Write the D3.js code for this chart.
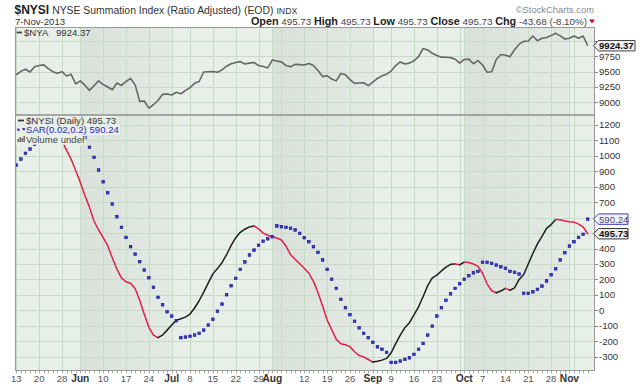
<!DOCTYPE html>
<html><head><meta charset="utf-8">
<script src="https://cdn.jsdelivr.net/npm/d3@7"></script>
<style>body{margin:0;background:#fff;} svg{display:block;font-family:"Liberation Sans",Arial,sans-serif;}</style>
</head><body><svg id="c" width="640" height="384"></svg>
<script>
// ---- data (2013 trading days) ----
const dates = ["05-13","05-14","05-15","05-16","05-17","05-20","05-21","05-22","05-23","05-24","05-28","05-29","05-30","05-31",
"06-03","06-04","06-05","06-06","06-07","06-10","06-11","06-12","06-13","06-14","06-17","06-18","06-19","06-20","06-21","06-24","06-25","06-26","06-27","06-28",
"07-01","07-02","07-03","07-05","07-08","07-09","07-10","07-11","07-12","07-15","07-16","07-17","07-18","07-19","07-22","07-23","07-24","07-25","07-26","07-29","07-30","07-31",
"08-01","08-02","08-05","08-06","08-07","08-08","08-09","08-12","08-13","08-14","08-15","08-16","08-19","08-20","08-21","08-22","08-23","08-26","08-27","08-28","08-29","08-30",
"09-03","09-04","09-05","09-06","09-09","09-10","09-11","09-12","09-13","09-16","09-17","09-18","09-19","09-20","09-23","09-24","09-25","09-26","09-27","09-30",
"10-01","10-02","10-03","10-04","10-07","10-08","10-09","10-10","10-11","10-14","10-15","10-16","10-17","10-18","10-21","10-22","10-23","10-24","10-25","10-28","10-29","10-30","10-31",
"11-01","11-04","11-05","11-06","11-07"];
const nysi = [1120,1140,1160,1172,1180,1185,1182,1170,1150,1125,
1100,1035,978,905,828,745,668,578,520,470,
418,340,268,210,185,175,140,65,-25,-110,
-160,-177,-160,-128,-95,-65,-54,-44,-24,15,
62,118,178,236,270,308,360,420,470,505,
525,540,546,527,500,486,476,468,455,415,
360,330,302,272,240,188,115,28,-63,-125,
-188,-216,-223,-235,-268,-292,-302,-318,-335,-330,
-322,-311,-275,-215,-160,-112,-80,-30,23,90,
160,210,228,255,280,298,300,295,312,310,
300,285,240,170,127,114,125,142,130,145,
200,232,300,368,430,478,530,555,588,586,
578,573,571,558,539.41,495.73];
const sar = [940,979,1016,1044,1074,1098,1118,1135,1148,1186,
1184,1178,1168,1152,1135,1117,
1055,990,908,832,761,688,606,537,472,412,
364,315,261,211,149,84,36,-9,-37,-67,
-177,-173,-168,-160,-149,-128,-95,-58,-6,41,
101,159,207,265,313,358,390,421,447,463,476,
546,541,537,531,520,498,470,444,412,375,
326,265,201,142,71,17,-28,-71,-113,-149,-177,-207,-236,-252,-272,
-337,-337,-328,-317,-307,-285,-252,-214,-160,-102,-37,
17,65,107,142,172,201,224,243,252,
311,311,304,293,282,272,252,246,235,
110,110,120,136,157,190,230,269,326,373,416,444,472,492,590.24];
const nya = [9450,9505,9540,9495,9580,9600,9612,9550,9500,9475,
9500,9430,9457,9300,9350,9280,9195,9270,9350,9290,
9250,9205,9315,9275,9340,9390,9285,9015,9021,8905,
8960,9030,9130,9135,9120,9165,9140,9190,9240,9310,
9340,9495,9500,9502,9490,9530,9590,9630,9650,9665,
9625,9640,9650,9600,9585,9562,9690,9675,9660,9600,
9582,9620,9615,9610,9635,9600,9520,9420,9435,9380,
9350,9470,9450,9370,9310,9315,9320,9272,9330,9390,
9432,9460,9510,9600,9660,9625,9640,9680,9745,9880,
9855,9800,9765,9738,9735,9730,9705,9640,9700,9705,
9630,9680,9610,9490,9500,9700,9780,9770,9745,9860,
9950,9995,10002,10083,10007,10046,10060,10090,10127,10085,
10034,10046,10083,10046,10083,9924.37];
const lowerTicks = [1200,1100,1000,900,800,700,600,500,400,300,200,100,0,-100,-200,-300];
const upperTicks = [10000,9750,9500,9250,9000];
const xTickDates = ["05-13","05-20","05-28","06-03","06-10","06-17","06-24","07-01","07-08","07-15","07-22","07-29","08-01","08-12","08-19","08-26","09-03","09-09","09-16","09-23","10-01","10-07","10-14","10-21","10-28","11-01"];
const xTickLabels = ["13","20","28","Jun","10","17","24","Jul","8","15","22","29","Aug","12","19","26","Sep","9","16","23","Oct","7","14","21","28","Nov"];
const weekStarts = ["05-13","05-20","05-28","06-03","06-10","06-17","06-24","07-01","07-08","07-15","07-22","07-29","08-05","08-12","08-19","08-26","09-03","09-09","09-16","09-23","09-30","10-07","10-14","10-21","10-28","11-04"];
const monthStarts = ["06-03","07-01","08-01","09-03","10-01","11-01"];

// ---- layout ----
const svg = d3.select("#c");
const X0=15, X1=595, UT=27, UB=114.5, LT=114.5, LB=371;
const x = d3.scalePoint().domain(dates).range([16.3, 587.7]);
const yL = d3.scaleLinear().domain([-300,1200]).range([356.7,124.9]);
const yU = d3.scaleLinear().domain([9000,10000]).range([102.3,41.1]);
const LIGHT = "#e8efe8", GRID = "#c6dcc6";

const defs = svg.append("defs");
const grad = defs.append("linearGradient").attr("id","band").attr("x1",0).attr("x2",1).attr("y1",0).attr("y2",0);
grad.append("stop").attr("offset",0).attr("stop-color","#dae1da");
grad.append("stop").attr("offset",1).attr("stop-color","#e3e9e3");
defs.append("clipPath").attr("id","cu").append("rect").attr("x",X0).attr("y",UT).attr("width",X1-X0).attr("height",UB-UT);
defs.append("clipPath").attr("id","cl").append("rect").attr("x",X0).attr("y",LT).attr("width",X1-X0).attr("height",LB-LT);

function panelBg(top, bottom, yScale, ticks){
  const g = svg.append("g");
  g.append("rect").attr("x",X0).attr("y",top).attr("width",X1-X0).attr("height",bottom-top).attr("fill",LIGHT);
  for(let k=0;k+1<monthStarts.length;k+=2){
    const a = x(monthStarts[k]), b = x(monthStarts[k+1]);
    g.append("rect").attr("x",a).attr("y",top).attr("width",b-a).attr("height",bottom-top).attr("fill","url(#band)");
  }
  g.selectAll("line.h").data(ticks).join("line").attr("class","h")
    .attr("x1",X0).attr("x2",X1).attr("y1",d=>Math.round(yScale(d))+0.5).attr("y2",d=>Math.round(yScale(d))+0.5)
    .attr("stroke",GRID).attr("stroke-width",1);
  const vx = Array.from(new Set(weekStarts.concat(monthStarts)));
  g.selectAll("line.v").data(vx).join("line").attr("class","v")
    .attr("x1",d=>Math.round(x(d))+0.5).attr("x2",d=>Math.round(x(d))+0.5).attr("y1",top).attr("y2",bottom)
    .attr("stroke",GRID).attr("stroke-width",1);
}
const upperGrid = d3.range(8750,10500,250).filter(v=>yU(v)>UT && yU(v)<UB);
const lowerGrid = d3.range(-400,1400,100).filter(v=>yL(v)>LT && yL(v)<LB);
panelBg(UT,UB,yU,upperGrid);
panelBg(LT,LB,yL,lowerGrid);

// ---- upper: $NYA ----
svg.append("path").attr("clip-path","url(#cu)")
  .attr("d", d3.line().x((d,i)=>x(dates[i])).y(d=>yU(d))(nya))
  .attr("fill","none").attr("stroke","#666").attr("stroke-width",1.6).attr("stroke-linejoin","round");

// ---- lower: $NYSI coloured by direction ----
const gl = svg.append("g").attr("clip-path","url(#cl)");
const runs = [];
for(let i=1;i<nysi.length;i++){
  const up = nysi[i] >= nysi[i-1];
  if(!runs.length || runs[runs.length-1].up!==up) runs.push({up, idx:[i-1]});
  runs[runs.length-1].idx.push(i);
}
const ln = d3.line().x(i=>x(dates[i])).y(i=>yL(nysi[i]));
runs.forEach(r=>{
  gl.append("path").attr("d",ln(r.idx)).attr("fill","none")
    .attr("stroke", r.up ? "#1e1e1e" : "#e0204a").attr("stroke-width",1.5)
    .attr("stroke-linejoin","round").attr("stroke-linecap","round");
});
gl.selectAll("rect.sar").data(sar).join("rect").attr("class","sar")
  .attr("x",(d,i)=>x(dates[i])-1.3).attr("y",d=>yL(d)-1.3).attr("width",2.6).attr("height",2.6)
  .attr("fill","#3b3bd6").attr("stroke","#12128c").attr("stroke-width",0.6);

// ---- legends ----
function legendLine(g, y, parts){
  const t = g.append("text").attr("x",26).attr("y",y).attr("font-size",9.6);
  parts.forEach(p=>t.append("tspan").text(p.t).attr("fill",p.c));
  return t;
}
const lg = svg.append("g");
const l1 = legendLine(lg,123.6,[{t:"$NYSI (Daily) 495.73",c:"#333"}]);
const l2 = legendLine(lg,133.2,[{t:"SAR(0.02,0.2) 590.24",c:"#2a2ab8"}]);
const l3 = legendLine(lg,142.8,[{t:"Volume undef",c:"#444"}]);
[l1,l2,l3].forEach(t=>{
  const b = t.node().getBBox();
  lg.insert("rect","text").attr("x",X0+0.5).attr("y",b.y+0.5).attr("width",b.x+b.width-X0).attr("height",b.height-0.5).attr("fill",LIGHT);
});
lg.append("rect").attr("x",18).attr("y",119.6).attr("width",6).attr("height",1.8).attr("fill","#333");
lg.append("rect").attr("x",17.3).attr("y",128.6).attr("width",2.2).attr("height",2.2).attr("fill","#2a2ab8");
lg.append("rect").attr("x",22.6).attr("y",128).attr("width",2.2).attr("height",2.2).attr("fill","#2a2ab8");
[[17.5,3],[19.5,5],[21.5,4],[23.5,6]].forEach(([bx,h])=>lg.append("rect").attr("x",bx).attr("y",142-h).attr("width",1.3).attr("height",h).attr("fill","#555"));

svg.append("rect").attr("x",16.7).attr("y",31.6).attr("width",5.3).attr("height",1.8).attr("fill","#444");
svg.append("text").attr("x",24).attr("y",35.6).attr("font-size",9.6).attr("fill","#333").text("$NYA");
svg.append("text").attr("x",56).attr("y",35.6).attr("font-size",9.6).attr("fill","#333").text("9924.37");

// ---- frames ----
svg.append("rect").attr("x",X0+0.5).attr("y",UT+0.5).attr("width",X1-X0-1).attr("height",LB-UT-1).attr("fill","none").attr("stroke","#9a9a9a");
svg.append("line").attr("x1",X0).attr("x2",X1).attr("y1",LT+0.5).attr("y2",LT+0.5).attr("stroke","#8e8e8e").attr("stroke-width",1.3);

// ---- value boxes positions (labels they cover are hidden, as in the reference) ----
const boxesL = [yL(sar[sar.length-1]), yL(nysi[nysi.length-1])];
const boxesU = [yU(nya[nya.length-1])];

function rightAxis(scale, ticks, boxes){
  const g = svg.append("g");
  ticks.forEach(v=>{
    const yy = Math.round(scale(v))+0.5;
    g.append("line").attr("x1",X1).attr("x2",X1+3).attr("y1",yy).attr("y2",yy).attr("stroke","#888");
    if(boxes.some(b=>Math.abs(b-scale(v))<9)) return;
    g.append("text").attr("x",599).attr("y",scale(v)+3.4).attr("font-size",9.6).attr("fill","#333").text(v);
  });
}
rightAxis(yL, lowerTicks, boxesL);
rightAxis(yU, upperTicks, boxesU);

function valueBox(yc, label, stroke, fill, color, bold, x1){
  const h=5.2, x0=593.5;
  svg.append("path").attr("d",`M${x0},${yc} L${x0+5},${yc-h} L${x1},${yc-h} L${x1},${yc+h} L${x0+5},${yc+h} Z`)
    .attr("fill",fill).attr("stroke",stroke).attr("stroke-width",1);
  svg.append("text").attr("x",x0+5.5).attr("y",yc+3.4).attr("font-size",9.6).attr("font-weight",bold?"bold":"normal").attr("fill",color).text(label);
}
valueBox(boxesL[0], "590.24", "#3a3ac8", "#f4f6fb", "#44447a", false, 628);
valueBox(boxesL[1], "495.73", "#333", "#f0f0f0", "#111", true, 628);
valueBox(boxesU[0], "9924.37", "#444", "#f0f0f0", "#111", true, 635);

// ---- bottom axis ----
const bg = svg.append("g");
bg.selectAll("line.d").data(dates).join("line").attr("class","d")
  .attr("x1",d=>Math.round(x(d))+0.5).attr("x2",d=>Math.round(x(d))+0.5).attr("y1",LB).attr("y2",LB+2.5)
  .attr("stroke","#aaa");
xTickDates.forEach((d,k)=>{
  const isMonth = isNaN(+xTickLabels[k]);
  bg.append("text").attr("x",x(d)).attr("y",381.5).attr("text-anchor","middle")
    .attr("font-size",isMonth?10.2:9.6).attr("font-weight",isMonth?"bold":"normal")
    .attr("fill",isMonth?"#333":"#555").text(xTickLabels[k]);
});

// ---- header ----
const t1 = svg.append("text").attr("x",14.5).attr("y",14).attr("fill","#333");
t1.append("tspan").attr("font-size",12).attr("font-weight","bold").attr("fill","#222").text("$NYSI");
t1.append("tspan").attr("font-size",10.4).attr("dx",3).text("NYSE Summation Index (Ratio Adjusted) (EOD)");
t1.append("tspan").attr("font-size",8.8).attr("dx",3).text("INDX");
svg.append("text").attr("x",594).attr("y",13).attr("text-anchor","end").attr("font-size",9.4).attr("fill","#8a8a8a").text("\u00A9StockCharts.com");
svg.append("text").attr("x",15).attr("y",24.5).attr("font-size",9.6).attr("fill","#333").text("7-Nov-2013");
const t2 = svg.append("text").attr("x",587).attr("y",24.5).attr("text-anchor","end").attr("fill","#333");
[["Open",1],[" 495.73 ",0],["High",1],[" 495.73 ",0],["Low",1],[" 495.73 ",0],["Close",1],[" 495.73 ",0],["Chg",1],[" -43.68 (-8.10%)",0]]
  .forEach(([s,b])=>t2.append("tspan").attr("font-size",b?10.8:9.8).attr("font-weight",b?"bold":"normal").attr("fill",b?"#222":"#444").attr("xml:space","preserve").text(s));
svg.append("path").attr("d","M589,19.5 L595,19.5 L592,23.5 Z").attr("fill","#c0102e");
</script>
</body></html>
